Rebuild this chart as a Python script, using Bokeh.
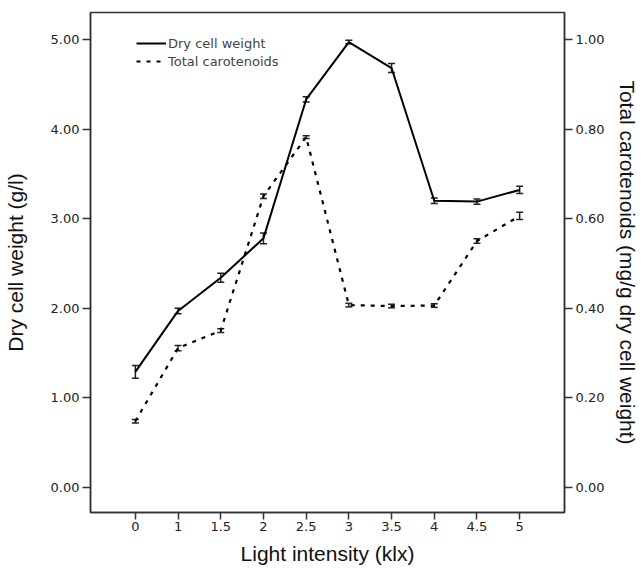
from bokeh.plotting import figure
from bokeh.models import (Range1d, LinearAxis, FixedTicker, ColumnDataSource, Whisker,
                          TeeHead, Legend, LegendItem, NumeralTickFormatter)
from bokeh.embed import file_html
from bokeh.resources import INLINE

light_labels = ["0", "1", "1.5", "2", "2.5", "3", "3.5", "4", "4.5", "5"]
dry_weight = [1.29, 1.97, 2.34, 2.78, 4.33, 4.97, 4.68, 3.20, 3.19, 3.32]
dry_err = [0.07, 0.03, 0.05, 0.06, 0.03, 0.02, 0.05, 0.03, 0.03, 0.04]
carotenoids = [0.148, 0.311, 0.350, 0.650, 0.782, 0.407, 0.405, 0.406, 0.550, 0.606]
car_err = [0.004, 0.006, 0.004, 0.005, 0.003, 0.004, 0.004, 0.004, 0.005, 0.008]

pos = list(range(len(light_labels)))
TICK_FONT = "DejaVu Sans"
LABEL_FONT = "Liberation Sans"

src = ColumnDataSource(dict(
    x=pos, dw=dry_weight,
    dw_lo=[v - e for v, e in zip(dry_weight, dry_err)],
    dw_hi=[v + e for v, e in zip(dry_weight, dry_err)],
    car=carotenoids,
    car_lo=[v - e for v, e in zip(carotenoids, car_err)],
    car_hi=[v + e for v, e in zip(carotenoids, car_err)],
))

p = figure(width=642, height=568, output_backend="svg", toolbar_location=None,
           x_range=Range1d(-1.05, len(light_labels) - 1 + 1.05),
           y_range=Range1d(-0.279, 5.30),
           min_border_left=90, min_border_right=75, min_border_top=12, min_border_bottom=56)
p.extra_y_ranges = {"right": Range1d(-0.0558, 1.060)}
p.xgrid.visible = False
p.ygrid.visible = False
p.outline_line_color = "#333333"
p.outline_line_width = 1.5
p.background_fill_color = "white"
p.border_fill_color = "white"

l1 = p.line("x", "dw", source=src, line_color="black", line_width=2)
l2 = p.line("x", "car", source=src, line_color="black", line_width=2.2, line_dash="4 6",
            y_range_name="right")

w1 = Whisker(base="x", lower="dw_lo", upper="dw_hi", source=src, line_color="#222222", line_width=1.5,
             upper_head=TeeHead(size=7, line_color="#222222", line_width=1.5),
             lower_head=TeeHead(size=7, line_color="#222222", line_width=1.5))
w2 = Whisker(base="x", lower="car_lo", upper="car_hi", source=src, line_color="#222222", line_width=1.5,
             y_range_name="right",
             upper_head=TeeHead(size=7, line_color="#222222", line_width=1.5),
             lower_head=TeeHead(size=7, line_color="#222222", line_width=1.5))
p.add_layout(w1)
p.add_layout(w2)

# axes
xa = p.xaxis[0]
xa.ticker = FixedTicker(ticks=pos)
xa.major_label_overrides = {i: lab for i, lab in enumerate(light_labels)}
xa.axis_label = "Light intensity (klx)"

ya = p.yaxis[0]
ya.ticker = FixedTicker(ticks=[0, 1, 2, 3, 4, 5])
ya.formatter = NumeralTickFormatter(format="0.00")
ya.axis_label = "Dry cell weight (g/l)"

ra = LinearAxis(y_range_name="right", ticker=FixedTicker(ticks=[0, 0.2, 0.4, 0.6, 0.8, 1.0]),
                formatter=NumeralTickFormatter(format="0.00"),
                axis_label="Total carotenoids (mg/g dry cell weight)")
p.add_layout(ra, "right")

for ax in (xa, ya, ra):
    ax.axis_line_color = "#333333"
    ax.axis_line_width = 1.5
    ax.major_tick_line_color = "#333333"
    ax.major_tick_line_width = 1.5
    ax.major_tick_out = 8
    ax.major_tick_in = 0
    ax.minor_tick_line_color = None
    ax.major_label_text_font = TICK_FONT
    ax.major_label_text_font_size = "13px"
    ax.major_label_text_color = "#222222"
    ax.axis_label_text_font = LABEL_FONT
    ax.axis_label_text_font_size = "21px"
    ax.axis_label_text_font_style = "normal"
    ax.axis_label_text_color = "#111111"
    ax.major_label_standoff = 3

xa.major_tick_out = 7
xa.major_label_standoff = 2
ya.axis_label_standoff = 21
ra.axis_label_standoff = 9
xa.axis_label_standoff = 8

legend = Legend(items=[LegendItem(label="Dry cell weight", renderers=[l1]),
                       LegendItem(label="Total carotenoids", renderers=[l2])],
                location=(46, 442))
legend.border_line_color = None
legend.background_fill_alpha = 0
legend.padding = 0
legend.margin = 0
legend.spacing = 0
legend.label_height = 18
legend.glyph_height = 18
legend.glyph_width = 30
legend.label_standoff = 2
legend.label_text_font = TICK_FONT
legend.label_text_font_size = "13px"
p.add_layout(legend)

open("out.html", "w").write(file_html(p, INLINE))
